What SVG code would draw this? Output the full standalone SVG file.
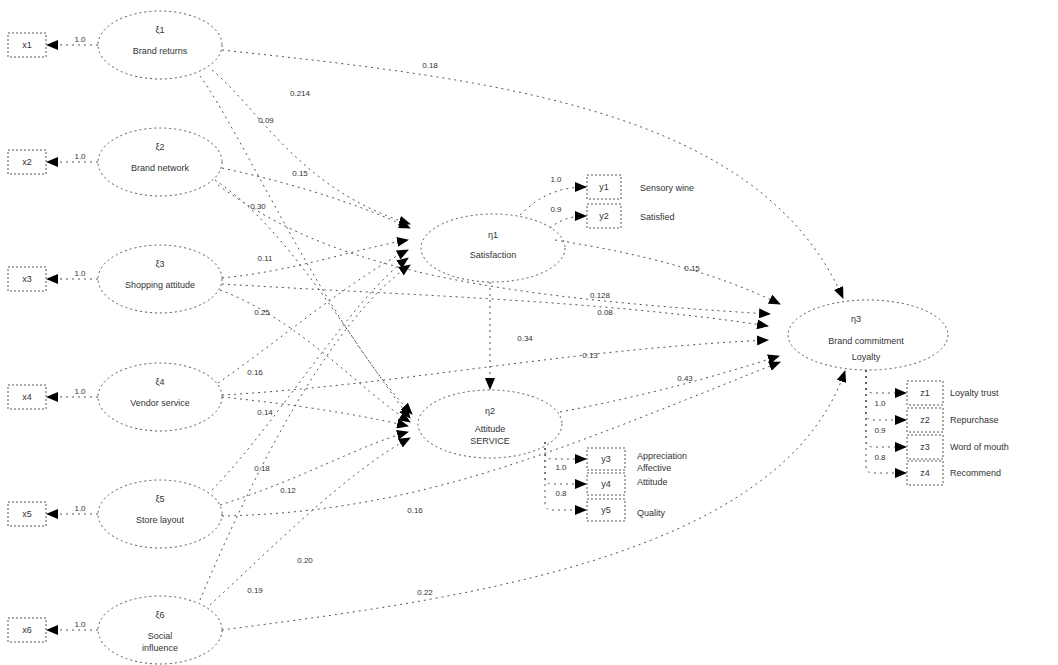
<svg xmlns="http://www.w3.org/2000/svg" width="1058" height="665" viewBox="0 0 1058 665">
<style>
.bg{fill:#fff}
.ell{fill:none;stroke:#555;stroke-width:1;stroke-dasharray:2 3}
.box{fill:none;stroke:#555;stroke-width:1;stroke-dasharray:2 2}
.e{fill:none;stroke:#555;stroke-width:1;stroke-dasharray:2 4;marker-end:url(#ah)}
.t{font-family:"Liberation Sans",Arial,sans-serif;font-size:9px;fill:#333;text-anchor:middle}
.tl{font-family:"Liberation Sans",Arial,sans-serif;font-size:9px;fill:#333;text-anchor:start}
.lb{font-family:"Liberation Sans",Arial,sans-serif;font-size:8px;fill:#333;text-anchor:middle}
</style>
<defs>
<marker id="ah" viewBox="0 0 12 10" refX="11" refY="5" markerWidth="12" markerHeight="10" markerUnits="userSpaceOnUse" orient="auto">
<path d="M0,0 L12,5 L0,10 z" fill="#000"/>
</marker>
</defs>
<rect class="bg" width="1058" height="665"/>

<g id="connectors">
<!-- exogenous to indicators -->
<path class="e" d="M98,45 L47,45"/>
<path class="e" d="M98,162 L47,162"/>
<path class="e" d="M98,279 L47,279"/>
<path class="e" d="M98,397 L47,397"/>
<path class="e" d="M98,514 L47,514"/>
<path class="e" d="M98,630 L47,630"/>
<!-- L1 -->
<path class="e" d="M222,50 C500,80 760,110 843,298"/>
<path class="e" d="M212,70 C260,110 300,190 410,224"/>
<path class="e" d="M200,76 C240,130 330,330 412,414"/>
<!-- L2 -->
<path class="e" d="M222,168 C300,185 360,205 410,228"/>
<path class="e" d="M215,180 C290,230 350,340 410,418"/>
<path class="e" d="M218,185 C320,260 450,295 770,314"/>
<!-- L3 -->
<path class="e" d="M222,278 C300,270 350,250 408,240"/>
<path class="e" d="M220,290 C300,320 360,390 410,422"/>
<path class="e" d="M222,284 C400,295 600,300 768,326"/>
<!-- L4 -->
<path class="e" d="M218,383 C280,340 350,280 408,250"/>
<path class="e" d="M222,397 C300,405 360,415 408,426"/>
<path class="e" d="M222,395 C400,385 560,350 768,340"/>
<!-- L5 -->
<path class="e" d="M212,490 C280,420 350,300 408,258"/>
<path class="e" d="M220,505 C300,480 360,445 408,432"/>
<path class="e" d="M222,516 C420,512 560,450 780,362"/>
<!-- L6 -->
<path class="e" d="M200,600 C250,480 330,320 410,265"/>
<path class="e" d="M210,605 C280,540 350,470 410,438"/>
<path class="e" d="M222,630 C450,600 780,560 845,371"/>
<!-- structural -->
<path class="e" d="M490,282 L490,389"/>
<path class="e" d="M555,240 C650,255 720,275 780,304"/>
<path class="e" d="M560,412 C650,395 720,375 779,356"/>
<!-- A indicators -->
<path class="e" d="M520,215 C540,195 560,187 586,187"/>
<path class="e" d="M550,228 C560,220 570,216 586,216"/>
<!-- B indicators -->
<path class="e" d="M545,442 L545,452 Q545,459 552,459 L586,459"/>
<path class="e" d="M545,442 L545,477 Q545,484 552,484 L586,484"/>
<path class="e" d="M545,442 L545,503 Q545,510 552,510 L586,510"/>
<!-- C indicators -->
<path class="e" d="M866,370 L866,386 Q866,393 873,393 L906,393"/>
<path class="e" d="M866,370 L866,413 Q866,420 873,420 L906,420"/>
<path class="e" d="M866,370 L866,440 Q866,447 873,447 L906,447"/>
<path class="e" d="M866,370 L866,466 Q866,473 873,473 L906,473"/>
<!-- edge labels -->
<text class="lb" x="80" y="42">1.0</text>
<text class="lb" x="80" y="159">1.0</text>
<text class="lb" x="80" y="276">1.0</text>
<text class="lb" x="80" y="394">1.0</text>
<text class="lb" x="80" y="511">1.0</text>
<text class="lb" x="80" y="627">1.0</text>
<text class="lb" x="430" y="68">0.18</text>
<text class="lb" x="300" y="96">0.214</text>
<text class="lb" x="266" y="123">0.09</text>
<text class="lb" x="300" y="176">0.15</text>
<text class="lb" x="258" y="209">0.30</text>
<text class="lb" x="600" y="298">0.128</text>
<text class="lb" x="265" y="261">0.11</text>
<text class="lb" x="262" y="315">0.25</text>
<text class="lb" x="605" y="315">0.08</text>
<text class="lb" x="255" y="375">0.16</text>
<text class="lb" x="265" y="415">0.14</text>
<text class="lb" x="590" y="358">0.13</text>
<text class="lb" x="262" y="471">0.18</text>
<text class="lb" x="288" y="493">0.12</text>
<text class="lb" x="415" y="513">0.16</text>
<text class="lb" x="255" y="593">0.19</text>
<text class="lb" x="305" y="563">0.20</text>
<text class="lb" x="425" y="595">0.22</text>
<text class="lb" x="525" y="341">0.34</text>
<text class="lb" x="692" y="271">0.15</text>
<text class="lb" x="685" y="381">0.43</text>
<text class="lb" x="556" y="182">1.0</text>
<text class="lb" x="556" y="212">0.9</text>
<text class="lb" x="561" y="470">1.0</text>
<text class="lb" x="561" y="496">0.8</text>
<text class="lb" x="880" y="406">1.0</text>
<text class="lb" x="880" y="433">0.9</text>
<text class="lb" x="880" y="460">0.8</text>
</g>

<g id="x1"><rect class="box" x="8" y="33" width="38" height="24"/><text class="t" x="27" y="48">x1</text></g>
<g id="x2"><rect class="box" x="8" y="150" width="38" height="24"/><text class="t" x="27" y="165">x2</text></g>
<g id="x3"><rect class="box" x="8" y="267" width="38" height="24"/><text class="t" x="27" y="282">x3</text></g>
<g id="x4"><rect class="box" x="8" y="385" width="38" height="24"/><text class="t" x="27" y="400">x4</text></g>
<g id="x5"><rect class="box" x="8" y="502" width="38" height="24"/><text class="t" x="27" y="517">x5</text></g>
<g id="x6"><rect class="box" x="8" y="618" width="38" height="24"/><text class="t" x="27" y="633">x6</text></g>

<g id="L1"><ellipse class="ell" cx="160" cy="45" rx="62" ry="34"/><text class="t" x="160" y="33">ξ1</text><text class="t" x="160" y="54">Brand returns</text></g>
<g id="L2"><ellipse class="ell" cx="160" cy="162" rx="62" ry="34"/><text class="t" x="160" y="150">ξ2</text><text class="t" x="160" y="171">Brand network</text></g>
<g id="L3"><ellipse class="ell" cx="160" cy="279" rx="62" ry="34"/><text class="t" x="160" y="267">ξ3</text><text class="t" x="160" y="288">Shopping attitude</text></g>
<g id="L4"><ellipse class="ell" cx="160" cy="397" rx="62" ry="34"/><text class="t" x="160" y="385">ξ4</text><text class="t" x="160" y="406">Vendor service</text></g>
<g id="L5"><ellipse class="ell" cx="160" cy="514" rx="62" ry="34"/><text class="t" x="160" y="502">ξ5</text><text class="t" x="160" y="523">Store layout</text></g>
<g id="L6"><ellipse class="ell" cx="160" cy="630" rx="62" ry="34"/><text class="t" x="160" y="618">ξ6</text><text class="t" x="160" y="639">Social</text><text class="t" x="160" y="651">influence</text></g>

<g id="A"><ellipse class="ell" cx="493" cy="248" rx="72" ry="34"/><text class="t" x="493" y="238">η1</text><text class="t" x="493" y="258">Satisfaction</text></g>
<g id="B"><ellipse class="ell" cx="490" cy="424" rx="72" ry="34"/><text class="t" x="490" y="414">η2</text><text class="t" x="490" y="432">Attitude</text><text class="t" x="490" y="444">SERVICE</text></g>
<g id="C"><ellipse class="ell" cx="868" cy="335" rx="80" ry="35"/><text class="t" x="856" y="322">η3</text><text class="t" x="866" y="344">Brand commitment</text><text class="t" x="866" y="360">Loyalty</text></g>

<g id="y1"><rect class="box" x="587" y="175" width="34" height="24"/><text class="t" x="604" y="190">y1</text><text class="tl" x="640" y="191">Sensory wine</text></g>
<g id="y2"><rect class="box" x="587" y="204" width="34" height="24"/><text class="t" x="604" y="219">y2</text><text class="tl" x="640" y="220">Satisfied</text></g>
<g id="y3"><rect class="box" x="587" y="448" width="38" height="22"/><text class="t" x="606" y="462">y3</text><text class="tl" x="637" y="459">Appreciation</text><text class="tl" x="637" y="471">Affective</text></g>
<g id="y4"><rect class="box" x="587" y="473" width="38" height="22"/><text class="t" x="606" y="487">y4</text><text class="tl" x="637" y="485">Attitude</text></g>
<g id="y5"><rect class="box" x="587" y="499" width="38" height="22"/><text class="t" x="606" y="513">y5</text><text class="tl" x="637" y="516">Quality</text></g>
<g id="z1"><rect class="box" x="907" y="381" width="36" height="24"/><text class="t" x="925" y="396">z1</text><text class="tl" x="950" y="396">Loyalty trust</text></g>
<g id="z2"><rect class="box" x="907" y="408" width="36" height="24"/><text class="t" x="925" y="423">z2</text><text class="tl" x="950" y="423">Repurchase</text></g>
<g id="z3"><rect class="box" x="907" y="435" width="36" height="24"/><text class="t" x="925" y="450">z3</text><text class="tl" x="950" y="450">Word of mouth</text></g>
<g id="z4"><rect class="box" x="907" y="461" width="36" height="24"/><text class="t" x="925" y="476">z4</text><text class="tl" x="950" y="476">Recommend</text></g>
</svg>
